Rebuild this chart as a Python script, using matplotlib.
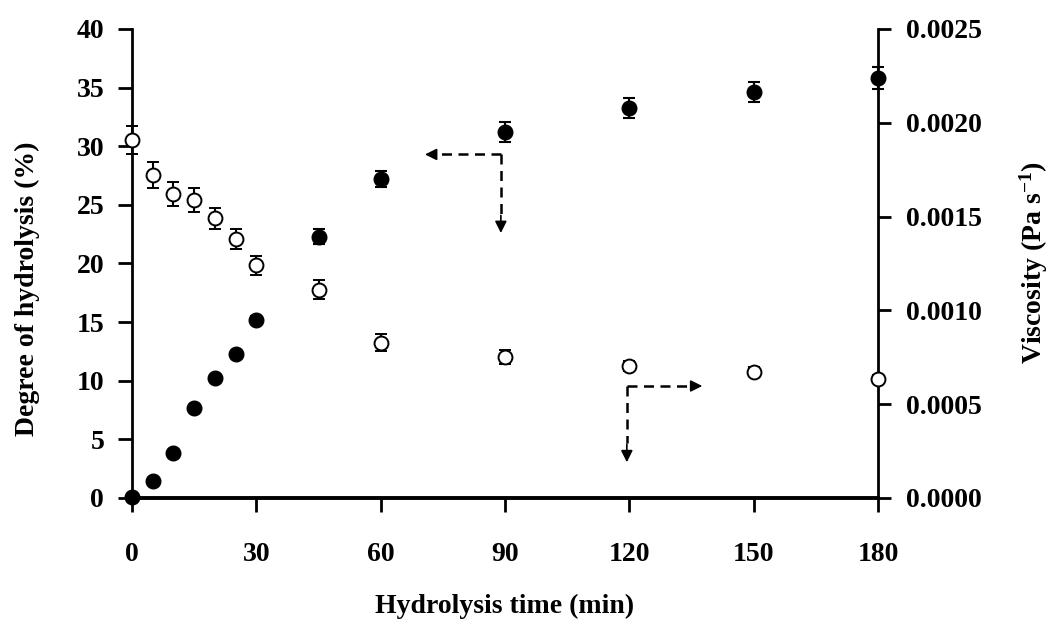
"""Degree of hydrolysis and viscosity against hydrolysis time, twin y axes."""

import matplotlib

matplotlib.use("Agg")

import matplotlib.pyplot as plt
from matplotlib.ticker import FormatStrFormatter, MultipleLocator

plt.rcParams["font.family"] = ["Liberation Serif", "DejaVu Serif"]
plt.rcParams["font.weight"] = "bold"
plt.rcParams["mathtext.fontset"] = "custom"
plt.rcParams["mathtext.rm"] = "Liberation Serif:bold"
plt.rcParams["mathtext.bf"] = "Liberation Serif:bold"
plt.rcParams["mathtext.it"] = "Liberation Serif:bold"

TIME_MIN = [0, 5, 10, 15, 20, 25, 30, 45, 60, 90, 120, 150, 180]

# degree of hydrolysis (%), mean and error
DH = [0.1, 1.45, 3.8, 7.7, 10.2, 12.3, 15.2, 22.3, 27.2, 31.2, 33.3, 34.6, 35.8]
DH_ERR = [0.2, 0.2, 0.2, 0.2, 0.2, 0.2, 0.3, 0.6, 0.7, 0.85, 0.85, 0.85, 0.95]

# viscosity (Pa s), mean and error
VISC = [0.00191, 0.00172, 0.00162, 0.00159, 0.00149, 0.00138, 0.00124,
        0.00111, 0.000827, 0.000750, 0.000704, 0.000674, 0.000633]
VISC_ERR = [0.000075, 0.000070, 0.000063, 0.000063, 0.000058, 0.000055,
            0.000049, 0.000050, 0.000045, 0.000038, 0.000025, 0.000025,
            0.000020]

TICK_FS = 20
LABEL_FS = 20
LW = 2.0

fig = plt.figure(figsize=(10.51, 6.22), dpi=100)
ax = fig.add_axes([0.1256, 0.1994, 0.7098, 0.754])
ax2 = ax.twinx()

ax.errorbar(TIME_MIN, DH, yerr=DH_ERR, fmt="o", color="black", ms=10.5,
            mfc="black", mec="black", ecolor="black", elinewidth=1.5,
            capsize=4, capthick=1.5, clip_on=False, zorder=5)
ax2.errorbar(TIME_MIN, VISC, yerr=VISC_ERR, fmt="o", color="black", ms=10,
             mfc="white", mec="black", mew=1.4, ecolor="black",
             elinewidth=1.5, capsize=4, capthick=1.5, clip_on=False, zorder=5)

ax.set_xlim(0, 180)
ax.set_ylim(0, 40)
ax2.set_ylim(0, 0.0025)
ax.xaxis.set_major_locator(MultipleLocator(30))
ax.yaxis.set_major_locator(MultipleLocator(5))
ax2.yaxis.set_major_locator(MultipleLocator(0.0005))
ax2.yaxis.set_major_formatter(FormatStrFormatter("%.4f"))

for a in (ax, ax2):
    a.spines["top"].set_visible(False)
    for s in a.spines.values():
        s.set_linewidth(LW)
ax.spines["right"].set_visible(False)
ax2.spines["left"].set_visible(False)
ax2.spines["bottom"].set_visible(False)
ax.spines["bottom"].set_linewidth(2.8)

ax.tick_params(axis="x", direction="out", length=10, width=LW, pad=22,
               labelsize=TICK_FS)
ax.tick_params(axis="y", direction="out", length=10, width=LW, pad=10,
               labelsize=TICK_FS)
ax2.tick_params(axis="y", direction="out", length=9, width=LW, pad=11,
                labelsize=TICK_FS)

ax.set_xlabel("Hydrolysis time (min)", fontsize=LABEL_FS, fontweight="bold",
              labelpad=19)
ax.set_ylabel("Degree of hydrolysis (%)", fontsize=LABEL_FS,
              fontweight="bold")
ax2.set_ylabel(r"Viscosity (Pa s$^{\mathrm{-1}}$)", fontsize=LABEL_FS,
               fontweight="bold")
ax.yaxis.set_label_coords(-0.123, 0.447)
ax2.yaxis.set_label_coords(1.187, 0.503)

# dashed pointers telling which axis each series belongs to
dash = dict(color="black", lw=1.8, ls=(0, (4, 2.6)), zorder=4)
head = dict(arrowstyle="-|>,head_length=0.7,head_width=0.35", color="black",
            lw=1.2, shrinkA=0, shrinkB=0)

ax.plot([89, 72.8], [29.3, 29.3], **dash)
ax.plot([89, 89], [29.3, 24.2], **dash)
ax.annotate("", xy=(70.7, 29.3), xytext=(73.0, 29.3), arrowprops=head)
ax.annotate("", xy=(89, 22.6), xytext=(89, 24.1), arrowprops=head)

ax.plot([119.4, 135.3], [9.55, 9.55], **dash)
ax.plot([119.4, 119.4], [9.55, 4.7], **dash)
ax.annotate("", xy=(137.6, 9.55), xytext=(135.2, 9.55), arrowprops=head)
ax.annotate("", xy=(119.4, 3.05), xytext=(119.4, 4.6), arrowprops=head)

fig.savefig("out.png", dpi=100)
